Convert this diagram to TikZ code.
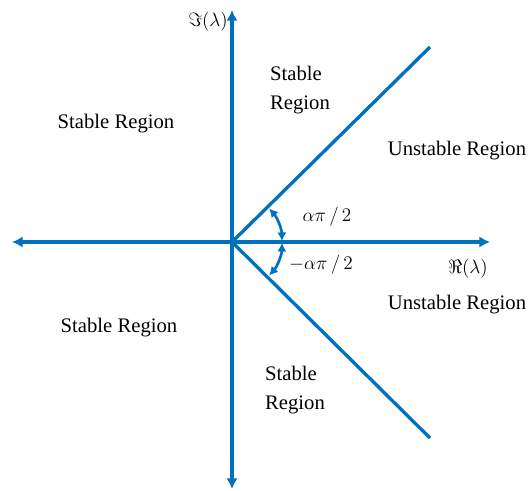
\documentclass[tikz,border=0pt]{standalone}
\usepackage{fontspec}
\setmainfont{Liberation Serif}
\usetikzlibrary{arrows.meta}
\definecolor{axisblue}{RGB}{0,112,192}

\begin{document}
\begin{tikzpicture}[x=0.75pt,y=0.75pt,
  axisline/.style={axisblue,line width=2.5pt},
  axisarrow/.style={axisline,{Latex[length=8pt,width=8.5pt]}-{Latex[length=8pt,width=8.5pt]}},
  anglearrow/.style={axisblue,line width=2pt,{Latex[length=6.5pt,width=7pt]}-{Latex[length=6.5pt,width=7pt]}},
  region/.style={font=\fontsize{15.5}{22}\selectfont,align=left},
  axislabel/.style={font=\fontsize{14}{16}\selectfont}]
  \useasboundingbox (-232,-248) rectangle (297,242);
  % axes
  \coordinate (origin) at (0,0);
  \coordinate (west) at (-220,0);
  \coordinate (east) at (258,0);
  \coordinate (north) at (0,232);
  \coordinate (south) at (0,-247);
  \coordinate (upper) at (198,195);
  \coordinate (lower) at (198,-196);
  \draw[axisarrow] (west) -- (east);
  \draw[axisarrow] (south) -- (north);
  \draw[axisline] (origin) -- (upper);
  \draw[axisline] (origin) -- (lower);
  % angles
  \draw[anglearrow] (42:50) arc[start angle=42,end angle=1,radius=50];
  \draw[anglearrow] (-42:50) arc[start angle=-42,end angle=-1,radius=50];
  \node[region] (posangle) at (95,25) {$\alpha\pi\,/\,2$};
  \node[region] (negangle) at (89,-23) {$-\alpha\pi\,/\,2$};
  % axis labels
  \node[axislabel] (imlabel) at (-24,220) {$\Im(\lambda)$};
  \node[axislabel] (relabel) at (236,-27) {$\Re(\lambda)$};
  % regions
  \node[region] (stableleft) at (-116,118) {Stable Region};
  \node[region] (stabletop) at (68,152) {Stable\\Region};
  \node[region] (unstabletop) at (225,91) {Unstable Region};
  \node[region] (unstablebottom) at (225,-63) {Unstable Region};
  \node[region] (stablelowleft) at (-113,-86) {Stable Region};
  \node[region] (stablebottom) at (63,-148) {Stable\\Region};
\end{tikzpicture}
\end{document}
